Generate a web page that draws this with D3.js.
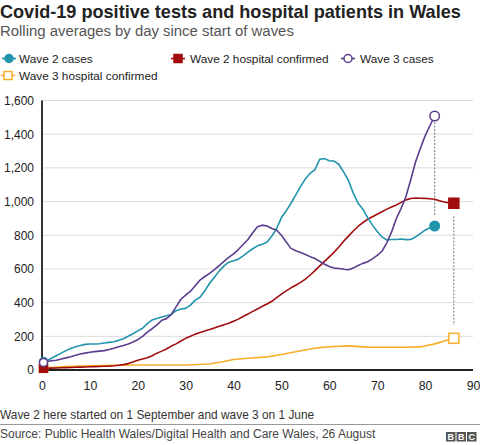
<!DOCTYPE html>
<html><head><meta charset="utf-8">
<script src="https://cdn.jsdelivr.net/npm/d3@7"></script>
<style>
body{margin:0;background:#fff;}
svg text{font-family:"Liberation Sans",Arial,sans-serif;}
</style></head>
<body><svg id="c" width="480" height="445"></svg>
<script>
const title = "Covid-19 positive tests and hospital patients in Wales";
const subtitle = "Rolling averages by day since start of waves";
const note = "Wave 2 here started on 1 September and wave 3 on 1 June";
const source = "Source: Public Health Wales/Digital Health and Care Wales, 26 August";

const seriesNames = ["Wave 2 cases","Wave 2 hospital confirmed","Wave 3 cases","Wave 3 hospital confirmed"];
const seriesColors = ["#2194ad","#a00d0d","#5b3d8e","#f9ae2b"];

const xTicks = [0,10,20,30,40,50,60,70,80,90];
const yTicks = [0,200,400,600,800,1000,1200,1400,1600];

const wave2CasesDays = d3.range(0,83);
const wave2Cases = [50,55,70,85,100,115,128,138,146,152,154,154,156,160,164,168,176,186,200,215,
 232,248,275,297,306,315,322,330,352,362,366,385,415,432,470,515,551,587,618,640,
 648,658,678,700,720,737,746,760,795,840,905,945,990,1040,1090,1135,1168,1190,1251,1255,
 1242,1240,1220,1175,1125,1050,990,955,905,860,822,790,772,775,775,778,774,775,790,810,
 830,845,855];

const wave3CasesDays = d3.range(0,83);
const wave3Cases = [45,50,55,58,65,72,79,87,95,100,105,109,112,115,122,129,138,146,155,166,
 180,200,225,245,268,295,305,330,375,420,445,468,500,534,555,574,596,620,645,668,
 690,715,745,775,815,850,860,855,840,830,800,760,722,708,698,686,673,662,645,628,
 615,605,603,598,595,605,620,633,643,660,680,705,755,820,900,960,1030,1130,1235,1315,
 1390,1450,1508];

const wave2HospDays = d3.range(0,87);
const wave2Hosp = [10,10,11,12,13,14,15,16,17,18,19,20,21,22,23,25,28,32,38,48,
 58,65,73,85,100,112,125,142,155,172,188,200,213,222,232,240,250,260,268,278,
 290,302,318,332,348,362,378,392,408,430,450,470,488,503,520,540,564,590,618,645,
 672,700,730,765,795,825,852,875,895,910,925,940,955,968,980,995,1010,1018,1021,1020,
 1019,1017,1014,1005,997,992,990];

const wave3HospDays = [0,5,10,15,20,25,30,35,38,40,43,47,50,53,56,58,60,64,68,72,76,79,82,86];
const wave3Hosp = [12,20,25,28,30,30,30,36,50,62,70,78,92,108,125,133,138,143,136,135,135,137,155,188];

const svg = d3.select("#c");
const x = d3.scaleLinear().domain([0,90]).range([42,473]);
const y = d3.scaleLinear().domain([0,1600]).range([370,100.5]);

// titles
svg.append("text").attr("x",0).attr("y",18).attr("font-size",18.1).attr("font-weight","bold").attr("fill","#222").text(title);
svg.append("text").attr("x",0).attr("y",36).attr("font-size",14.9).attr("fill","#555").text(subtitle);

// gridlines
svg.append("g").selectAll("line").data(yTicks.filter(d=>d>0)).join("line")
 .attr("x1",42).attr("x2",473).attr("y1",d=>y(d)).attr("y2",d=>y(d))
 .attr("stroke","#dcdcdc").attr("stroke-width",1);

// y axis
const yAxis = svg.append("g").attr("transform","translate(42,0)")
 .call(d3.axisLeft(y).tickValues(yTicks).tickFormat(d3.format(",")).tickSize(0).tickPadding(8));
yAxis.select(".domain").remove();
yAxis.selectAll("text").attr("font-size",12).attr("fill","#222").attr("font-family","Liberation Sans, Arial, sans-serif");
svg.append("line").attr("x1",42).attr("x2",42).attr("y1",y(1600)).attr("y2",370).attr("stroke","#333").attr("stroke-width",2);

// x axis
const xAxis = svg.append("g").attr("transform","translate(0,370)")
 .call(d3.axisBottom(x).tickValues(xTicks).tickSize(0).tickPadding(11));
xAxis.select(".domain").remove();
xAxis.selectAll("text").attr("font-size",12.3).attr("fill","#222").attr("font-family","Liberation Sans, Arial, sans-serif");
svg.append("line").attr("x1",41).attr("x2",473).attr("y1",370).attr("y2",370).attr("stroke","#222").attr("stroke-width",2);

const line = d3.line().x(d=>x(d[0])).y(d=>y(d[1]));
const series = [
 {days:wave3HospDays, vals:wave3Hosp, color:seriesColors[3], shape:"square", fill:false},
 {days:wave2HospDays, vals:wave2Hosp, color:seriesColors[1], shape:"square", fill:true},
 {days:wave2CasesDays, vals:wave2Cases, color:seriesColors[0], shape:"circle", fill:true},
 {days:wave3CasesDays, vals:wave3Cases, color:seriesColors[2], shape:"circle", fill:false},
];

// connectors (dashed)
function connector(d, v1, v2, gapTop, gapBot){
 svg.append("line").attr("x1",x(d)).attr("x2",x(d)).attr("y1",y(v1)+gapTop).attr("y2",y(v2)-gapBot)
  .attr("stroke","#777").attr("stroke-width",1).attr("stroke-dasharray","2,1.5");
}
connector(82, wave3Cases[wave3Cases.length-1], wave2Cases[wave2Cases.length-1], 6, 11);
connector(86, wave2Hosp[wave2Hosp.length-1], wave3Hosp[wave3Hosp.length-1], 13, 13);

series.forEach(s=>{
 const pts = s.days.map((d,i)=>[d,s.vals[i]]);
 svg.append("path").datum(pts).attr("d",line).attr("fill","none").attr("stroke",s.color).attr("stroke-width",1.6).attr("stroke-linejoin","round");
});
function marker(g, cx, cy, s, size){
 if(s.shape==="circle"){
  g.append("circle").attr("cx",cx).attr("cy",cy).attr("r",size/2)
   .attr("fill",s.fill?s.color:"#fff").attr("stroke",s.color).attr("stroke-width",1.5);
 } else {
  g.append("rect").attr("x",cx-size/2).attr("y",cy-size/2).attr("width",size).attr("height",size)
   .attr("fill",s.fill?s.color:"#fff").attr("stroke",s.color).attr("stroke-width",1.5);
 }
}
series.forEach(s=>{
 const n = s.days.length-1;
 marker(svg, x(s.days[0])+1.5, y(s.vals[0]), s, 8);
 marker(svg, x(s.days[n]), y(s.vals[n]), s, s.shape==="circle"?9.5:10);
});

// legend
const legendItems = [
 {name:seriesNames[0], s:series[2], lx:2, tx:19, cy:58.5},
 {name:seriesNames[1], s:series[1], lx:171, tx:190, cy:58.5},
 {name:seriesNames[2], s:series[3], lx:341, tx:360, cy:58.5},
 {name:seriesNames[3], s:series[0], lx:1, tx:19, cy:75.5},
];
legendItems.forEach(it=>{
 const g = svg.append("g");
 g.append("line").attr("x1",it.lx).attr("x2",it.lx+14).attr("y1",it.cy).attr("y2",it.cy).attr("stroke",it.s.color).attr("stroke-width",1.7);
 marker(g, it.lx+7, it.cy, it.s, 8);
 g.append("text").attr("x",it.tx).attr("y",it.cy+4.3).attr("font-size",11.8).attr("fill","#222").text(it.name);
});

// footer
svg.append("text").attr("x",0).attr("y",419).attr("font-size",11.9).attr("fill","#333").text(note);
svg.append("line").attr("x1",0).attr("x2",480).attr("y1",424.5).attr("y2",424.5).attr("stroke","#999").attr("stroke-width",1);
svg.append("text").attr("x",0).attr("y",438).attr("font-size",12).attr("fill","#444").text(source);
const bbc = svg.append("g");
["B","B","C"].forEach((t,i)=>{
 bbc.append("rect").attr("x",446+i*10.5).attr("y",432).attr("width",9.5).attr("height",9.5).attr("fill","#555");
 bbc.append("text").attr("x",446+i*10.5+4.75).attr("y",440).attr("text-anchor","middle").attr("font-size",9).attr("font-weight","bold").attr("fill","#fff").text(t);
});
</script></body></html>
